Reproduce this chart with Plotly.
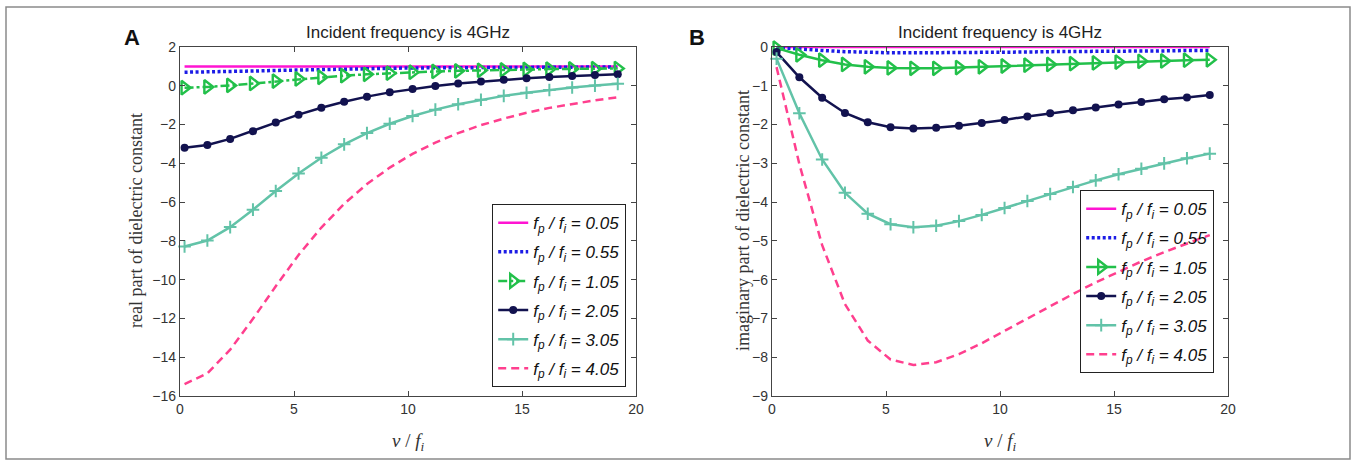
import plotly.graph_objects as go

# ---------------- data ----------------
nu_over_fi = [0.2, 1.2, 2.2, 3.2, 4.2, 5.2, 6.2, 7.2, 8.2, 9.2,
              10.2, 11.2, 12.2, 13.2, 14.2, 15.2, 16.2, 17.2, 18.2, 19.2]

ratio_labels = ["0.05", "0.55", "1.05", "2.05", "3.05", "4.05"]

# real part of dielectric constant (panel A)
real_005 = [1.00, 1.00, 1.00, 1.00, 1.00, 1.00, 1.00, 1.00, 1.00, 1.00,
            1.00, 1.00, 1.00, 1.00, 1.00, 1.00, 1.00, 1.00, 1.00, 1.00]
real_055 = [0.70, 0.71, 0.73, 0.76, 0.79, 0.82, 0.85, 0.87, 0.89, 0.90,
            0.92, 0.93, 0.94, 0.94, 0.95, 0.96, 0.96, 0.96, 0.97, 0.97]
real_105 = [-0.10, -0.06, 0.02, 0.12, 0.24, 0.35, 0.44, 0.52, 0.59, 0.65,
            0.70, 0.74, 0.77, 0.80, 0.82, 0.84, 0.86, 0.87, 0.88, 0.89]
real_205 = [-3.20, -3.05, -2.74, -2.34, -1.90, -1.49, -1.13, -0.82, -0.56, -0.34,
            -0.16, -0.01, 0.12, 0.22, 0.31, 0.39, 0.45, 0.50, 0.55, 0.59]
real_305 = [-8.29, -7.98, -7.29, -6.39, -5.43, -4.52, -3.71, -3.02, -2.44, -1.96,
            -1.56, -1.23, -0.95, -0.72, -0.52, -0.36, -0.22, -0.09, 0.01, 0.10]
real_405 = [-15.39, -14.83, -13.61, -12.02, -10.34, -8.73, -7.31, -6.09, -5.07, -4.22,
            -3.51, -2.93, -2.44, -2.03, -1.69, -1.39, -1.14, -0.93, -0.75, -0.59]

# imaginary part of dielectric constant (panel B)
imag_005 = [0.00, 0.00, 0.00, 0.00, 0.00, 0.00, 0.00, 0.00, 0.00, 0.00,
            0.00, 0.00, 0.00, 0.00, 0.00, 0.00, 0.00, 0.00, 0.00, 0.00]
imag_055 = [-0.01, -0.06, -0.09, -0.12, -0.14, -0.15, -0.15, -0.15, -0.15, -0.14,
            -0.14, -0.13, -0.12, -0.12, -0.11, -0.11, -0.10, -0.10, -0.09, -0.09]
imag_105 = [-0.03, -0.20, -0.34, -0.45, -0.51, -0.54, -0.55, -0.55, -0.53, -0.51,
            -0.49, -0.47, -0.45, -0.43, -0.41, -0.39, -0.37, -0.36, -0.34, -0.33]
imag_205 = [-0.13, -0.78, -1.31, -1.70, -1.94, -2.07, -2.10, -2.08, -2.03, -1.96,
            -1.88, -1.79, -1.71, -1.63, -1.56, -1.48, -1.42, -1.35, -1.30, -1.24]
imag_305 = [-0.30, -1.71, -2.90, -3.76, -4.30, -4.57, -4.65, -4.61, -4.49, -4.33,
            -4.15, -3.97, -3.79, -3.61, -3.44, -3.28, -3.14, -3.00, -2.87, -2.75]
imag_405 = [-0.52, -3.02, -5.11, -6.63, -7.57, -8.06, -8.20, -8.13, -7.92, -7.64,
            -7.32, -7.00, -6.68, -6.37, -6.07, -5.79, -5.53, -5.29, -5.06, -4.85]

real_series = [real_005, real_055, real_105, real_205, real_305, real_405]
imag_series = [imag_005, imag_055, imag_105, imag_205, imag_305, imag_405]

panel_title = "Incident frequency is 4GHz"
ylabel_a = "real part of dielectric constant"
ylabel_b = "imaginary part of dielectric constant"

# ---------------- styles ----------------
W, H = 1356, 465
colors = ["#ff14d2", "#1c1ce6", "#22c04a", "#12124f", "#62c3a8", "#ff3f8e"]
dash_a = ["solid", "3px,2.5px", "dashdot", "solid", "solid", "8px,5px"]
dash_b = ["solid", "3px,2.5px", "solid", "solid", "solid", "8px,5px"]
widths = [2.5, 3.5, 2.5, 2.5, 2.5, 2.5]


def marker_for(i):
    if i == 2:
        return dict(symbol="triangle-right-open", size=12, color=colors[i],
                    line=dict(width=2.4, color=colors[i]))
    if i == 3:
        return dict(symbol="circle", size=8, color=colors[i])
    if i == 4:
        return dict(symbol="cross-thin", size=9, color=colors[i],
                    line=dict(width=2, color=colors[i]))
    return None


def name_for(lbl):
    return ("<i>f</i><sub><i>p</i></sub><i> / f</i><sub><i>i</i></sub>"
            "<i> = " + lbl + "</i>")


fig = go.Figure()
for i, lbl in enumerate(ratio_labels):
    mk = marker_for(i)
    fig.add_trace(go.Scatter(
        x=nu_over_fi, y=real_series[i], name=name_for(lbl),
        mode="lines+markers" if mk else "lines",
        line=dict(color=colors[i], width=widths[i], dash=dash_a[i]),
        marker=mk, cliponaxis=False, legendgroup="a%d" % i,
        xaxis="x", yaxis="y", legend="legend"))
for i, lbl in enumerate(ratio_labels):
    mk = marker_for(i)
    fig.add_trace(go.Scatter(
        x=nu_over_fi, y=imag_series[i], name=name_for(lbl),
        mode="lines+markers" if mk else "lines",
        line=dict(color=colors[i], width=widths[i], dash=dash_b[i]),
        marker=mk, cliponaxis=False, legendgroup="b%d" % i,
        xaxis="x2", yaxis="y2", legend="legend2"))

ax_common = dict(showline=True, linecolor="#444", linewidth=1.3, mirror="ticks",
                 ticks="inside", ticklen=5, tickwidth=1, tickcolor="#444",
                 showgrid=False, zeroline=False, automargin=False,
                 tickfont=dict(family="Liberation Sans, Arial", size=14, color="#333"))

xa = (180 / W, 636 / W)
xb = (772 / W, 1228 / W)
yd = ((H - 396) / H, (H - 47) / H)

leg_common = dict(bordercolor="#222", borderwidth=1.2,
                  font=dict(family="Liberation Sans, Arial", size=17, color="#111"),
                  tracegroupgap=4, xanchor="right", yanchor="bottom")

fig.update_layout(
    width=W, height=H,
    margin=dict(l=0, r=0, t=0, b=0),
    paper_bgcolor="white", plot_bgcolor="white",
    xaxis=dict(domain=list(xa), range=[0, 20], dtick=5, anchor="y", **ax_common),
    yaxis=dict(domain=list(yd), range=[-16, 2], dtick=2, anchor="x", **ax_common),
    xaxis2=dict(domain=list(xb), range=[0, 20], dtick=5, anchor="y2", **ax_common),
    yaxis2=dict(domain=list(yd), range=[-9, 0], dtick=1, anchor="x2", **ax_common),
    legend=dict(x=626 / W, y=(H - 387) / H, bgcolor="white", **leg_common),
    legend2=dict(x=1214 / W, y=(H - 373) / H, bgcolor="rgba(255,255,255,0)", **leg_common),
    showlegend=True,
)

ann = []
for cx, letter, ylab, ylx in [(408, "A", ylabel_a, 136), (1000, "B", ylabel_b, 743)]:
    ann.append(dict(text=panel_title, x=cx / W, y=(H - 33) / H, xref="paper", yref="paper",
                    showarrow=False, xanchor="center", yanchor="middle",
                    font=dict(family="Liberation Sans, Arial", size=17, color="#222")))
    ann.append(dict(text="<i>ν</i> / <i>f</i><sub><i>i</i></sub>", x=cx / W, y=(H - 442) / H,
                    xref="paper", yref="paper", showarrow=False,
                    xanchor="center", yanchor="middle",
                    font=dict(family="Liberation Serif, Times New Roman", size=19, color="#333")))
    ann.append(dict(text=ylab, x=ylx / W, y=(H - 221) / H, xref="paper", yref="paper",
                    showarrow=False, textangle=-90, xanchor="center", yanchor="middle",
                    font=dict(family="Liberation Serif, Times New Roman", size=18, color="#333")))
ann.append(dict(text="<b>A</b>", x=132 / W, y=(H - 38) / H, xref="paper", yref="paper",
                showarrow=False, xanchor="center", yanchor="middle",
                font=dict(family="Liberation Sans, Arial", size=22, color="#111")))
ann.append(dict(text="<b>B</b>", x=697 / W, y=(H - 38) / H, xref="paper", yref="paper",
                showarrow=False, xanchor="center", yanchor="middle",
                font=dict(family="Liberation Sans, Arial", size=22, color="#111")))
fig.update_layout(annotations=ann)

fig.add_shape(type="rect", xref="paper", yref="paper",
              x0=6 / W, x1=(W - 6) / W, y0=6 / H, y1=(H - 7) / H,
              line=dict(color="#8a8a8a", width=1.5), layer="below")

fig.write_html("out.html")
